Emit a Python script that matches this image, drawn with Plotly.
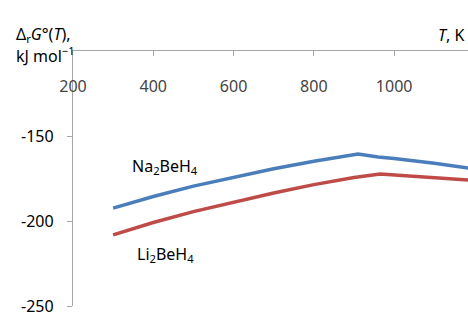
import plotly.graph_objects as go

# Data
T_na = [300, 400, 500, 600, 700, 800, 900, 910, 960, 1000, 1100, 1200]
G_na = [-192.4, -185.6, -179.5, -174.2, -169.3, -164.8, -161.0, -160.6, -162.3, -163.2, -166.0, -169.3]
T_li = [300, 400, 500, 600, 700, 800, 900, 965, 1000, 1100, 1200]
G_li = [-208.2, -200.9, -194.5, -188.8, -183.5, -178.6, -174.4, -172.4, -172.9, -174.5, -176.1]
x_ticks = [200, 400, 600, 800, 1000, 1200]
y_ticks = [-250, -200, -150]
y_tick_text = ["-250", "-200", "-150"]

W, H = 468, 312
L, R, T, B = 73, 0, 51, 6
Y_MIN, Y_MAX = -250, -100
pw = W - L - R
ph = H - T - B

def px(x):
    return (x - L) / pw

def py(y):
    return (H - B - y) / ph

FONT = "Noto Sans"

fig = go.Figure()
fig.add_trace(go.Scatter(x=T_na, y=G_na, mode="lines",
                         line=dict(color="#4A7EBB", width=3.5), showlegend=False))
fig.add_trace(go.Scatter(x=T_li, y=G_li, mode="lines",
                         line=dict(color="#BE4B48", width=3.5), showlegend=False))

fig.update_layout(
    width=W, height=H,
    margin=dict(l=L, r=R, t=T, b=B, pad=0, autoexpand=False),
    paper_bgcolor="white", plot_bgcolor="white",
    font=dict(family=FONT, size=16, color="#000000"),
    xaxis=dict(range=[200, 1184], side="top", tickvals=x_ticks,
               ticks="inside", ticklen=5, tickcolor="#A6A6A6",
               ticklabelposition="inside", ticklabelstandoff=25,
               ticklabeloverflow="allow", automargin=False,
               showline=True, linecolor="#A6A6A6", linewidth=1.3,
               showgrid=False, zeroline=False),
    yaxis=dict(range=[Y_MIN, Y_MAX], tickvals=y_ticks, ticktext=y_tick_text,
               ticks="outside", ticklen=5, tickcolor="#A6A6A6",
               ticklabelstandoff=10, ticklabeloverflow="allow", automargin=False,
               showline=True, linecolor="#A6A6A6", linewidth=1.3,
               showgrid=False, zeroline=False),
)

ann = [
    ("Na<sub>2</sub>BeH<sub>4</sub>", 165, 166, "center"),
    ("Li<sub>2</sub>BeH<sub>4</sub>", 165, 254, "center"),
    ("Δ<sub>r</sub><i>G</i>°(<i>T</i>),", 14, 34, "left"),
    ("kJ mol<sup>−1</sup>", 14, 55, "left"),
    ("<i>T</i>, K", 436, 35, "left"),
]
for text, x, y, anchor in ann:
    fig.add_annotation(text=text, x=px(x), y=py(y), xref="paper", yref="paper",
                       xanchor=anchor, yanchor="middle", showarrow=False,
                       font=dict(family=FONT, size=16, color="#000000"))

fig.write_html("out.html",
               config={"displayModeBar": False},
               post_script="document.body.style.margin='0';document.body.style.overflow='hidden';")
